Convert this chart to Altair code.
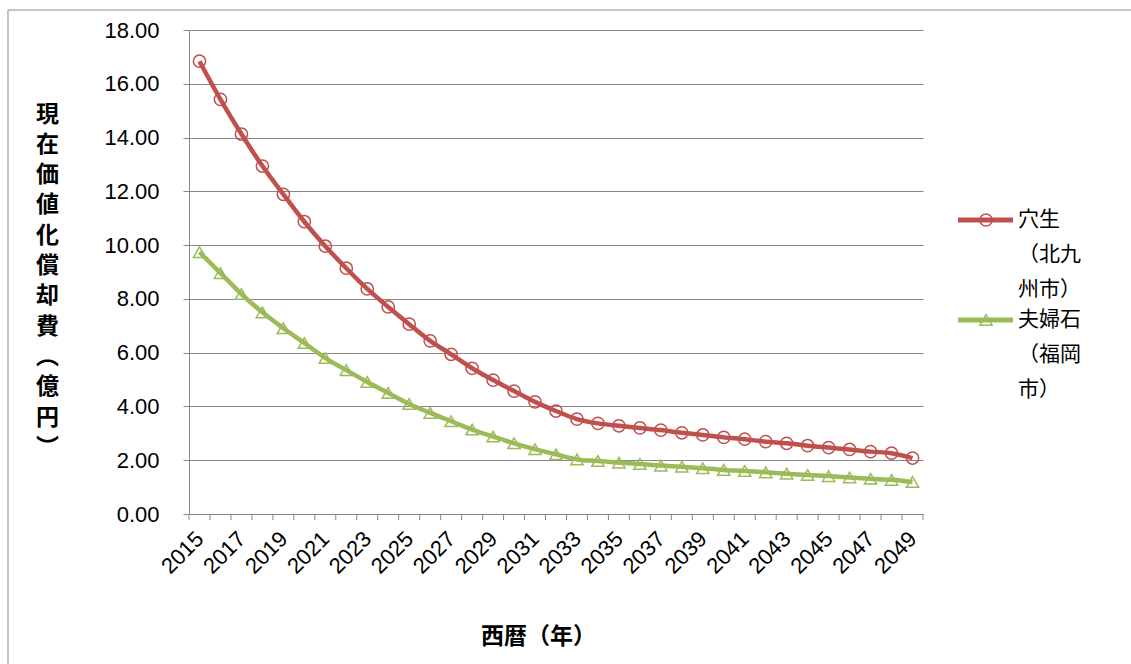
import altair as alt
import pandas as pd

# ---- data -------------------------------------------------------------
years = list(range(2015, 2050))

series_names = ["穴生（北九州市）", "夫婦石（福岡市）"]
legend_lines = [["穴生", "（北九", "州市）"], ["夫婦石", "（福岡", "市）"]]

anou = [16.84, 15.42, 14.13, 12.94, 11.89, 10.87, 9.96, 9.14, 8.37, 7.70,
        7.06, 6.44, 5.94, 5.42, 4.98, 4.57, 4.17, 3.83, 3.53, 3.37,
        3.28, 3.20, 3.12, 3.02, 2.94, 2.85, 2.78, 2.69, 2.63, 2.54,
        2.47, 2.40, 2.32, 2.26, 2.08]
meotoishi = [9.74, 8.96, 8.18, 7.50, 6.91, 6.36, 5.80, 5.35, 4.91, 4.50,
             4.09, 3.76, 3.45, 3.14, 2.88, 2.63, 2.41, 2.22, 2.03, 1.97,
             1.91, 1.86, 1.80, 1.76, 1.70, 1.64, 1.60, 1.55, 1.50, 1.45,
             1.41, 1.36, 1.31, 1.27, 1.19]
series_values = [anou, meotoishi]

series_colors = ["#C0504D", "#9BBB59"]
series_shapes = ["circle", "triangle-up"]

y_ticks = [0, 2, 4, 6, 8, 10, 12, 14, 16, 18]
x_label_years = years[::2]
category_edges = [y - 0.5 for y in years] + [years[-1] + 0.5]

y_title_chars = ["現", "在", "価", "値", "化", "償", "却", "費", "︵", "億", "円", "︶"]
x_title = "西暦（年）"

# ---- layout -----------------------------------------------------------
W, H = 1131, 664
PAD_L, PAD_T, PAD_R, PAD_B = 189, 30, 208, 150
PLOT_W, PLOT_H = W - PAD_L - PAD_R, H - PAD_T - PAD_B

GRID = "#878787"
NUM_FONT = "Liberation Sans"
JP_FONT = "Noto Sans CJK JP"

x_scale = alt.Scale(domain=[category_edges[0], category_edges[-1]], nice=False, zero=False)
y_scale = alt.Scale(domain=[0, 18], nice=False)

x_axis = alt.Axis(
    values=x_label_years, format="d", labelAngle=-45, labelAlign="right",
    labelBaseline="middle", labelPadding=21, labelFont=NUM_FONT, labelFontSize=22,
    labelColor="black", ticks=False, grid=False, domainColor=GRID, domainWidth=1,
    title=x_title, titleFont=JP_FONT, titleFontSize=23, titleFontWeight="bold",
    titleColor="black", titleX=349, titleY=122, titleAlign="center",
    titleBaseline="middle", labelOverlap=False, labelFlush=False,
)
y_axis = alt.Axis(
    values=y_ticks, format=".2f", labelFont=NUM_FONT, labelFontSize=22,
    labelColor="black", labelPadding=24, tickSize=6, tickColor=GRID,
    domainColor=GRID, gridColor=GRID, gridWidth=1,
    title=y_title_chars, titleAngle=0, titleFont=JP_FONT, titleFontSize=23,
    titleFontWeight="bold", titleColor="black", titleX=-142, titleY=84,
    titleAlign="center", titleBaseline="middle", titleLineHeight=30.3,
)

one_row = pd.DataFrame({"k": [0]})

# outer chart-area frame
frame = alt.Chart(one_row).mark_rect(filled=False, stroke="#8c8c8c", strokeWidth=1).encode(
    x=alt.value(-181), x2=alt.value(W - PAD_L + 20),
    y=alt.value(-20), y2=alt.value(H - PAD_T + 20),
)

# tick marks between categories on the x axis
ticks = alt.Chart(pd.DataFrame({"edge": category_edges})).mark_rule(
    color=GRID, strokeWidth=1
).encode(
    x=alt.X("edge:Q", scale=x_scale, axis=x_axis),
    y=alt.value(PLOT_H), y2=alt.value(PLOT_H + 6),
)

layers = [frame, ticks]
legend_y = [190, 290]
for name, vals, color, shape, lines, ly in zip(
        series_names, series_values, series_colors, series_shapes, legend_lines, legend_y):
    df = pd.DataFrame({"year": years, "value": vals, "series": name})
    base = alt.Chart(df).encode(
        x=alt.X("year:Q", scale=x_scale, axis=x_axis),
        y=alt.Y("value:Q", scale=y_scale, axis=y_axis),
    )
    line = base.mark_line(color=color, strokeWidth=4.5, interpolate="monotone")
    pts = base.mark_point(shape=shape, filled=False, color=color, size=150,
                          strokeWidth=1.5, opacity=1)
    layers += [line, pts]

    # legend entry: line sample, marker and wrapped label
    lg_line = alt.Chart(one_row).mark_rule(color=color, strokeWidth=5).encode(
        x=alt.value(769), x2=alt.value(824), y=alt.value(ly))
    lg_pt = alt.Chart(one_row).mark_point(shape=shape, filled=False, color=color,
                                          size=150, strokeWidth=1.5, opacity=1).encode(
        x=alt.value(797), y=alt.value(ly))
    lg_txt = alt.Chart(one_row).mark_text(align="left", baseline="middle", font=JP_FONT,
                                          fontSize=21, lineHeight=35, color="black").encode(
        x=alt.value(829), y=alt.value(ly), text=alt.value(lines))
    layers += [lg_line, lg_pt, lg_txt]

chart = alt.layer(*layers).properties(
    width=PLOT_W, height=PLOT_H,
    autosize=alt.AutoSizeParams(type="none"),
    padding={"left": PAD_L, "top": PAD_T, "right": PAD_R, "bottom": PAD_B},
    background="white",
).configure_view(stroke=None)

chart.save("out.html", embed_options={"renderer": "svg", "actions": False})
